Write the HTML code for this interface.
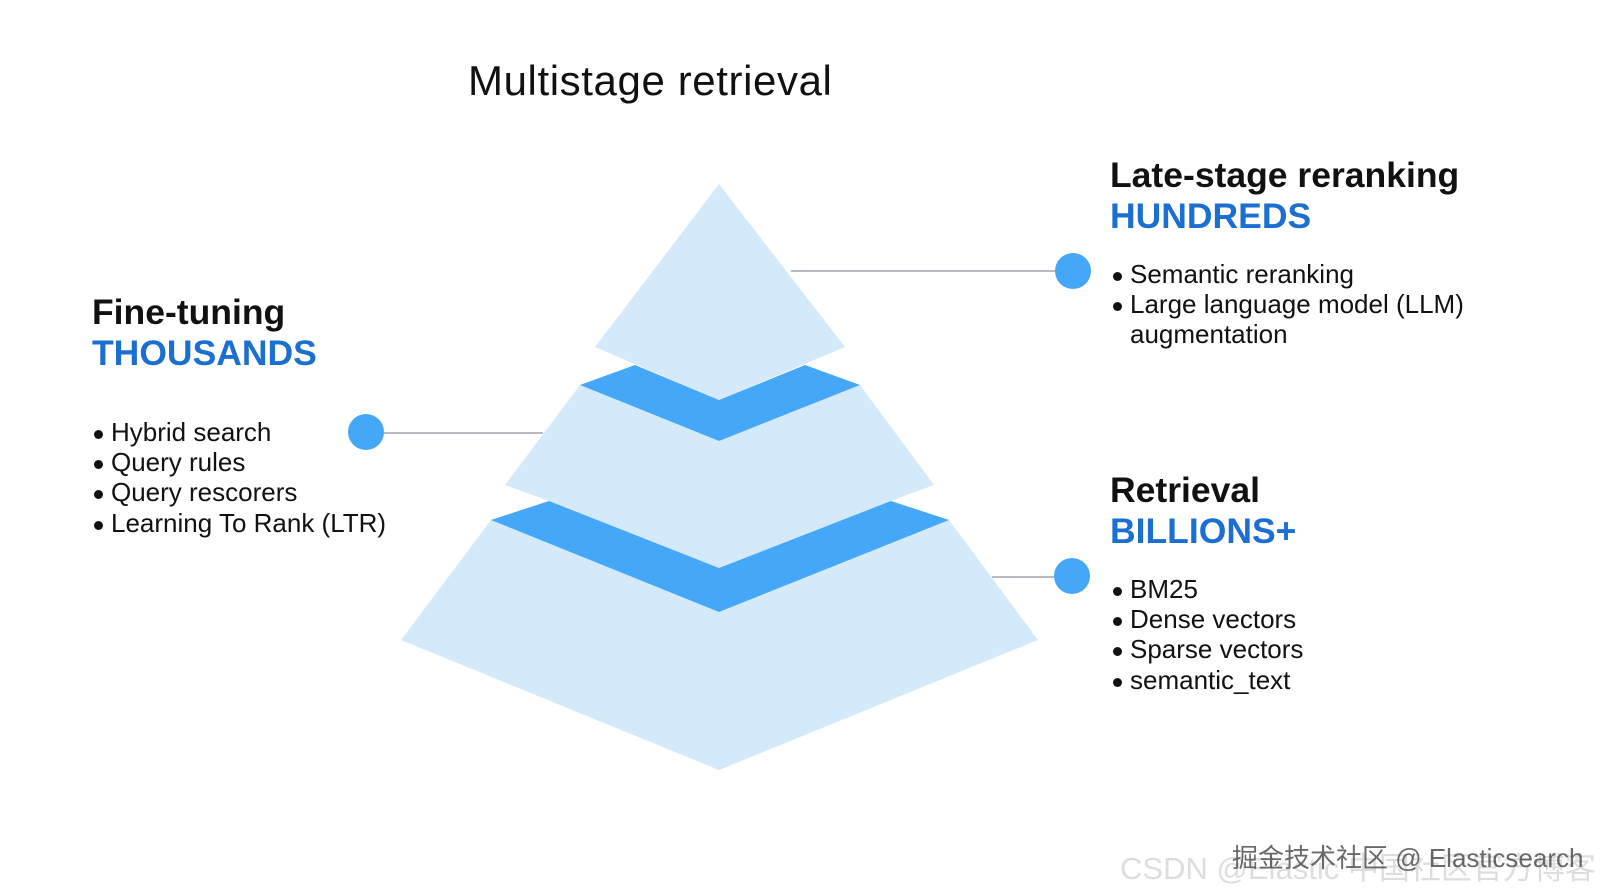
<!DOCTYPE html>
<html><head><meta charset="utf-8"><style>
body{margin:0;width:1600px;height:895px;background:#fff;overflow:hidden;position:relative;font-family:"Liberation Sans",sans-serif;color:#111}
.t{position:absolute;white-space:nowrap}
.h{font-weight:bold;font-size:35.5px;line-height:41px}
.b{color:#1a6fd0}
ul{position:absolute;margin:0;padding:0;list-style:none;font-size:26px;line-height:30.2px;white-space:nowrap}
li{position:relative;height:30.2px}
li:before{content:"";position:absolute;left:-17px;top:13px;width:9px;height:9px;border-radius:50%;background:#111}
li.c:before{display:none}
</style></head><body>
<svg width="1600" height="895" style="position:absolute;left:0;top:0">
<g stroke="#b8bcc2" stroke-width="2">
<line x1="791" y1="271" x2="1060" y2="271"/>
<line x1="378" y1="433" x2="543" y2="433"/>
<line x1="992" y1="577" x2="1060" y2="577"/>
</g>
<g fill="#d4eafb">
<polygon points="719,184 845,347 719,400 595,347"/>
<polygon points="580,385 719,441 860,385 934,485 891,501 719,568 549,501 505,485"/>
<polygon points="491,520 719,612 949,520 1038,640 719,770 401,640"/>
</g>
<g fill="#45a7f7">
<polygon points="635,365 719,400 805,365 860,385 719,441 580,385"/>
<polygon points="549,501 719,568 891,501 949,520 719,612 491,520"/>
<circle cx="366" cy="432" r="18"/>
<circle cx="1073" cy="271" r="18"/>
<circle cx="1072" cy="576" r="18"/>
</g>
</svg>
<div class="t" style="left:468px;top:57px;font-size:42px;letter-spacing:0.6px">Multistage retrieval</div>
<div class="t h" style="left:1110px;top:155px">Late-stage reranking<br><span class="b">HUNDREDS</span></div>
<ul style="left:1130px;top:259px"><li>Semantic reranking</li><li>Large language model (LLM)</li><li class="c">augmentation</li></ul>
<div class="t h" style="left:92px;top:292px">Fine-tuning<br><span class="b">THOUSANDS</span></div>
<ul style="left:111px;top:417px"><li>Hybrid search</li><li>Query rules</li><li>Query rescorers</li><li>Learning To Rank (LTR)</li></ul>
<div class="t h" style="left:1110px;top:470px">Retrieval<br><span class="b">BILLIONS+</span></div>
<ul style="left:1130px;top:574px"><li>BM25</li><li>Dense vectors</li><li>Sparse vectors</li><li>semantic_text</li></ul>
<div class="t" style="left:1120px;top:843px;font-size:31px;color:#ddd;font-family:'Liberation Sans','Noto Sans CJK SC',sans-serif">CSDN @Elastic 中国社区官方博客</div>
<div class="t" style="left:1232px;top:838px;font-size:26px;color:#444;font-family:'Liberation Sans','Noto Sans CJK SC',sans-serif;opacity:.8">掘金技术社区 @ Elasticsearch</div>
</body></html>
